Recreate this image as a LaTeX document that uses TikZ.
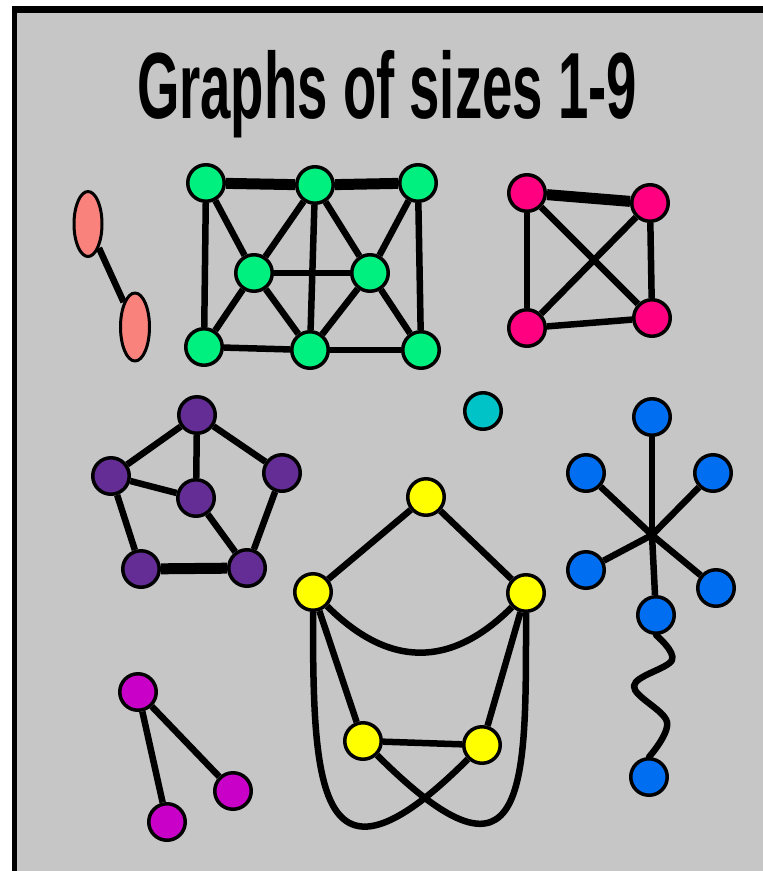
\documentclass[tikz,border=0pt]{standalone}
\usepackage{fontspec}
\setmainfont{Liberation Sans}
\usepackage{tikz}
\usetikzlibrary{shapes.geometric}
\definecolor{bggray}{RGB}{198,198,198}
\definecolor{grn}{RGB}{0,240,128}
\definecolor{salmon}{RGB}{250,130,125}
\definecolor{hotpink}{RGB}{255,0,128}
\definecolor{plum}{RGB}{100,45,150}
\definecolor{teal}{RGB}{0,195,200}
\definecolor{yel}{RGB}{255,255,0}
\definecolor{azure}{RGB}{0,110,240}
\definecolor{mag}{RGB}{200,0,200}

\begin{document}
\begin{tikzpicture}[x=1pt,y=1pt,line join=round,
  vtx/.style={circle,draw=black,line width=3.5pt,minimum size=36.5pt,inner sep=0pt},
  oval/.style={ellipse,draw=black,line width=3pt,fill=salmon,inner sep=0pt},
  edge/.style={line width=6.5pt},
  heavy/.style={line width=11pt}]
  \useasboundingbox (0,0) rectangle (763,-871);
  \fill[white] (0,0) rectangle (763,-871);
  \fill[black] (12,-6) rectangle (763,-871);
  \fill[bggray] (17,-13) rectangle (763,-871);
  \node[anchor=base,font=\bfseries\fontsize{94}{94}\selectfont] (title) at (387,-118)
    {\scalebox{0.58}[1]{Graphs of sizes 1-9}};
  % pair of ovals
  \node[oval,minimum width=28pt,minimum height=65pt] (e1) at (88,-224) {};
  \node[oval,minimum width=29pt,minimum height=68pt] (e2) at (135,-327) {};
  \draw[edge] (e1) -- (e2);
  % green
  \node[vtx,fill=grn] (g1) at (206,-183) {};
  \node[vtx,fill=grn] (g2) at (315,-185) {};
  \node[vtx,fill=grn] (g3) at (418,-183) {};
  \node[vtx,fill=grn] (g4) at (254,-273) {};
  \node[vtx,fill=grn] (g5) at (370,-273) {};
  \node[vtx,fill=grn] (g6) at (204,-347) {};
  \node[vtx,fill=grn] (g7) at (310,-350) {};
  \node[vtx,fill=grn] (g8) at (421,-350) {};
  \draw[heavy] (g1) -- (g2);
  \draw[heavy] (g2) -- (g3);
  \draw[edge] (g1) -- (g6);
  \draw[edge] (g3) -- (g8);
  \draw[edge] (g6) -- (g7);
  \draw[edge] (g7) -- (g8);
  \draw[edge] (g1) -- (g4);
  \draw[edge] (g2) -- (g4);
  \draw[edge] (g2) -- (g5);
  \draw[edge] (g3) -- (g5);
  \draw[edge] (g4) -- (g5);
  \draw[edge] (g2) -- (g7);
  \draw[edge] (g4) -- (g6);
  \draw[edge] (g4) -- (g7);
  \draw[edge] (g5) -- (g7);
  \draw[edge] (g5) -- (g8);
  % square with diagonals
  \node[vtx,fill=hotpink] (k1) at (527,-193) {};
  \node[vtx,fill=hotpink] (k2) at (650,-203) {};
  \node[vtx,fill=hotpink] (k3) at (527,-328) {};
  \node[vtx,fill=hotpink] (k4) at (652,-318) {};
  \draw[heavy] (k1) -- (k2);
  \draw[edge] (k1) -- (k3);
  \draw[edge] (k2) -- (k4);
  \draw[edge] (k3) -- (k4);
  \draw[edge] (k1) -- (k4);
  \draw[edge] (k2) -- (k3);
  % purple
  \node[vtx,fill=plum] (p1) at (197,-415) {};
  \node[vtx,fill=plum] (p2) at (111,-476) {};
  \node[vtx,fill=plum] (p3) at (282,-473) {};
  \node[vtx,fill=plum] (p4) at (196,-498) {};
  \node[vtx,fill=plum] (p5) at (141,-569) {};
  \node[vtx,fill=plum] (p6) at (247,-568) {};
  \draw[edge] (p1) -- (p2);
  \draw[edge] (p1) -- (p3);
  \draw[edge] (p1) -- (p4);
  \draw[edge] (p2) -- (p4);
  \draw[edge] (p2) -- (p5);
  \draw[edge] (p3) -- (p6);
  \draw[edge] (p4) -- (p6);
  \draw[heavy] (p5) -- (p6);
  % single vertex
  \node[vtx,fill=teal] (t1) at (483,-411) {};
  % yellow
  \node[vtx,fill=yel] (y1) at (426,-497) {};
  \node[vtx,fill=yel] (y2) at (313,-592) {};
  \node[vtx,fill=yel] (y3) at (526,-593) {};
  \node[vtx,fill=yel] (y4) at (363,-741) {};
  \node[vtx,fill=yel] (y5) at (482,-745) {};
  \draw[edge] (y1) -- (y2);
  \draw[edge] (y1) -- (y3);
  \draw[edge] (y2) to[out=-45,in=-135,looseness=1.2] (y3);
  \draw[edge] (y2) -- (y4);
  \draw[edge] (y3) -- (y5);
  \draw[edge] (y4) -- (y5);
  \draw[edge] (y2) to[out=-90,in=-135,out distance=170pt,in distance=215pt] (y5);
  \draw[edge] (y3) to[out=-90,in=-45,out distance=170pt,in distance=215pt] (y4);
  % blue star
  \coordinate (hub) at (652,-535);
  \node[vtx,fill=azure] (b1) at (652,-417) {};
  \node[vtx,fill=azure] (b2) at (586,-473) {};
  \node[vtx,fill=azure] (b3) at (713,-473) {};
  \node[vtx,fill=azure] (b4) at (586,-570) {};
  \node[vtx,fill=azure] (b5) at (716,-588) {};
  \node[vtx,fill=azure] (b6) at (656,-615) {};
  \node[vtx,fill=azure] (b7) at (649,-777) {};
  \draw[edge] (hub) -- (b1);
  \draw[edge] (hub) -- (b2);
  \draw[edge] (hub) -- (b3);
  \draw[edge] (hub) -- (b4);
  \draw[edge] (hub) -- (b5);
  \draw[edge] (hub) -- (b6);
  \draw[edge,line cap=round] plot[smooth,tension=0.6] coordinates
    {(b6.south) (672,-660) (634,-686) (667,-722) (b7.north)};
  % magenta
  \node[vtx,fill=mag] (m1) at (138,-692) {};
  \node[vtx,fill=mag] (m2) at (233,-791) {};
  \node[vtx,fill=mag] (m3) at (167,-822) {};
  \draw[edge] (m1) -- (m2);
  \draw[edge] (m1) -- (m3);
\end{tikzpicture}
\end{document}
